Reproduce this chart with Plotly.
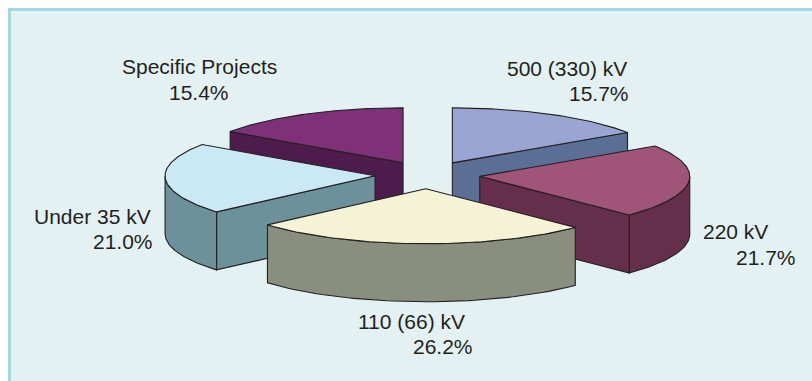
import numpy as np
import plotly.graph_objects as go

categories = ["500 (330) kV", "220 kV", "110 (66) kV", "Under 35 kV", "Specific Projects"]
shares = [15.7, 21.7, 26.2, 21.0, 15.4]
share_labels = ["15.7%", "21.7%", "26.2%", "21.0%", "15.4%"]
top_colors = ["#9AA5D3", "#A05478", "#F4F3D6", "#CAE9F5", "#7E3078"]
wall_colors = ["#5A6E96", "#652F4C", "#898E7E", "#6C919B", "#4E1C4C"]

draw_order = [4, 0, 3, 1, 2]
# anchor positions of each label's two lines
name_pos = [(507, 68), (703, 231), (358, 321), (34, 216), (122, 66)]
share_pos = [(569, 93), (736, 257), (413, 346), (93, 241), (169, 92)]

CX, CY, RX, RY, DEPTH, PULL = 427.5, 175, 210, 55, 58, 0.25
INK = "#231F20"

fig = go.Figure()


def face(xs, ys, color):
    fig.add_trace(go.Scatter(x=xs, y=ys, mode="lines", fill="toself", fillcolor=color,
                             line=dict(color=INK, width=1.1), hoverinfo="skip", showlegend=False))


total = sum(shares)
edges = np.concatenate([[0], np.cumsum(shares)]) / total * 2 * np.pi

for i in draw_order:
    a, b = edges[i], edges[i + 1]
    mid = (a + b) / 2
    ax = CX + PULL * RX * np.sin(mid)
    ay = CY - PULL * RY * np.cos(mid)
    t = np.linspace(a, b, 80)
    rim_x = ax + RX * np.sin(t)
    rim_y = ay - RY * np.cos(t)

    # outer rim, only the part facing the viewer
    lo, hi = max(a, np.pi / 2), min(b, 3 * np.pi / 2)
    if hi > lo:
        v = np.linspace(lo, hi, 60)
        vx = ax + RX * np.sin(v)
        vy = ay - RY * np.cos(v)
        face(np.r_[vx, vx[::-1], vx[0]], np.r_[vy, vy[::-1] + DEPTH, vy[0]], wall_colors[i])

    # radial cut walls that face the viewer
    if np.sin(a) < -1e-6:
        px, py = ax + RX * np.sin(a), ay - RY * np.cos(a)
        face([ax, px, px, ax, ax], [ay, py, py + DEPTH, ay + DEPTH, ay], wall_colors[i])
    if np.sin(b) > 1e-6:
        px, py = ax + RX * np.sin(b), ay - RY * np.cos(b)
        face([ax, px, px, ax, ax], [ay, py, py + DEPTH, ay + DEPTH, ay], wall_colors[i])

    # top face
    face(np.r_[ax, rim_x, ax], np.r_[ay, rim_y, ay], top_colors[i])

font = dict(family="Liberation Sans, Arial, sans-serif", size=21, color=INK)
for i in range(len(categories)):
    for text, (x, y) in ((categories[i], name_pos[i]), (share_labels[i], share_pos[i])):
        fig.add_annotation(x=x, y=y, text=text, showarrow=False, xanchor="left", yanchor="middle",
                           font=font, xshift=-2)

fig.update_layout(
    width=812, height=381, autosize=False,
    margin=dict(l=0, r=0, t=0, b=0),
    paper_bgcolor="white", plot_bgcolor="white",
    xaxis=dict(range=[0, 812], visible=False, fixedrange=True),
    yaxis=dict(range=[381, 0], visible=False, fixedrange=True),
    shapes=[dict(type="rect", xref="x", yref="y", x0=9.5, y0=9.5, x1=830, y1=400,
                 fillcolor="#E3F1F2", line=dict(color="#A3D8E0", width=3), layer="below")],
)
fig.write_html("out.html", config={"displayModeBar": False},
               post_script="document.body.style.margin='0';document.documentElement.style.overflow='hidden';")
